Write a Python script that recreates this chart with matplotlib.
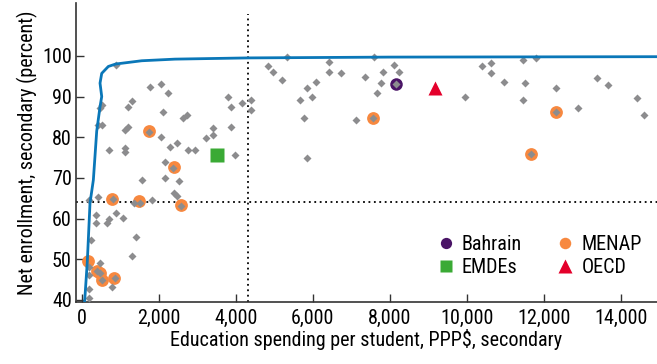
import matplotlib
matplotlib.use("Agg")
import matplotlib.pyplot as plt
import numpy as np

plt.rcParams["font.family"] = ["Roboto Condensed", "DejaVu Sans"]

# ------------------------------------------------------------
# data
# ------------------------------------------------------------
# all countries (gray diamonds): spending, enrollment
gray_x = [887, 1777, 2063, 2236, 472, 540, 1302, 1199, 2123, 420, 540, 1129, 1216,
          1752, 2063, 722, 1129, 1129, 2296, 2167, 2383, 1562, 2167, 2538, 2400,
          2470, 2584, 195, 420, 826, 1370, 1518, 1821, 368, 368, 895, 669, 722,
          1069, 247, 1414, 1302, 195, 480, 394, 480, 195, 524, 870, 784, 195, 195,
          3811, 3873, 4157, 4390, 4390, 2642, 2745, 3405, 3405, 3230, 3873, 2470,
          2755, 2945, 3983,
          4848, 4977, 5325, 5210, 5843, 6085, 5973, 5670, 5782, 5843, 6430, 6430,
          6725, 7356, 7123, 7590, 8116, 8245, 7830, 7771, 7660, 7572, 8153, 9955,
          10384, 10625, 10625, 10970, 11448, 11793, 11508, 11448, 12312, 12312,
          12890, 11655, 13368, 13669, 14421, 14595]
gray_y = [97.8, 92.4, 93.2, 90.8, 87.1, 88.0, 88.8, 87.4, 86.3, 83.0, 83.0, 81.8, 82.5,
          81.4, 80.1, 76.9, 77.3, 76.3, 77.7, 74.0, 72.4, 69.6, 70.0, 69.3, 66.2,
          65.6, 63.1, 64.6, 65.4, 64.8, 63.8, 63.9, 64.6, 60.9, 58.9, 61.3, 58.9, 59.8,
          60.1, 54.8, 55.6, 50.7, 48.2, 49.0, 47.0, 46.6, 46.2, 44.9, 45.3, 43.3, 42.6, 40.6,
          90.0, 87.5, 88.4, 89.2, 86.7, 84.7, 85.5, 82.2, 80.6, 79.8, 82.6, 78.5,
          76.9, 76.9, 75.7,
          97.4, 96.1, 99.8, 94.1, 92.1, 93.7, 90.0, 89.2, 84.7, 74.8, 98.6, 96.1,
          95.7, 94.9, 84.3, 99.8, 97.8, 96.1, 96.1, 93.3, 90.8, 84.8, 93.0, 90.0,
          97.4, 98.2, 95.7, 93.7, 99.0, 99.4, 93.3, 89.2, 92.1, 86.1,
          87.1, 75.8, 94.5, 92.9, 89.6, 85.5]

menap_x = [170, 390, 470, 520, 850, 800, 1500, 2584, 2400, 1750, 7572, 11655, 12312]
menap_y = [49.5, 47.2, 46.6, 45.0, 45.3, 64.8, 64.3, 63.3, 72.7, 81.6, 84.8, 75.8, 86.1]

bahrain_x, bahrain_y = [8153], [93.0]
emdes_x, emdes_y = [3508], [75.7]
oecd_x, oecd_y = [9163], [92.1]

# efficiency frontier
frontier_x = [80, 150, 220, 307, 394, 480, 524, 480, 524, 696, 887, 1562, 2426, 4325, 8000, 15000]
frontier_y = [39.5, 49.4, 63.8, 69.5, 81.5, 87.5, 90.0, 93.3, 95.7, 97.4, 98.0, 98.8, 99.2, 99.5, 99.7, 99.8]

avg_spending = 4325
avg_enrollment = 64.2

# ------------------------------------------------------------
# plot
# ------------------------------------------------------------
fig = plt.figure(figsize=(6.57, 3.64), dpi=100)
ax = fig.add_axes([0.1157, 0.1703, 0.8843, 0.8215])

ax.plot(menap_x, menap_y, "o", ms=9.2, color="#F7883F", mec="none", zorder=3, label="MENAP")
ax.plot(bahrain_x, bahrain_y, "o", ms=9, color="#4A1466", mec="none", zorder=3, label="Bahrain")
ax.plot(gray_x, gray_y, "D", ms=4.2, color="#8C8C8E", mec="none", zorder=4)
ax.plot(emdes_x, emdes_y, "s", ms=10, color="#3AAA35", mec="none", zorder=5, label="EMDEs")
ax.plot(oecd_x, oecd_y, "^", ms=10.5, color="#E4002B", mec="none", zorder=5, label="OECD")

ax.plot(frontier_x, frontier_y, color="#0A77B8", lw=2, zorder=6)

ax.axhline(avg_enrollment, color="black", ls=(0, (1, 2)), lw=1.3, zorder=2)
ax.plot([avg_spending, avg_spending], [39.5, 110.3], color="black", ls=(0, (1, 2)), lw=1.3, zorder=2)

ax.set_xlim(-143, 14933)
ax.set_ylim(39.5, 113)
ax.set_xticks(np.arange(0, 14001, 2000))
ax.set_xticklabels([f"{v:,}" for v in range(0, 14001, 2000)])
ax.set_yticks(np.arange(40, 101, 10))
ax.tick_params(direction="in", length=6, width=1, labelsize=14.5, color="#333333")
ax.tick_params(axis="x", pad=5)
ax.tick_params(axis="y", pad=3)

for s in ["top", "right"]:
    ax.spines[s].set_visible(False)
ax.spines["left"].set_color("#333333")
ax.spines["bottom"].set_color("#333333")
ax.spines["left"].set_linewidth(1.2)
ax.spines["bottom"].set_linewidth(1.2)

ax.set_xlabel("Education spending per student, PPP$, secondary", fontsize=14.5, labelpad=1)
ax.set_ylabel("Net enrollment, secondary (percent)", fontsize=14.5, labelpad=3)

handles, labels = ax.get_legend_handles_labels()
order = [labels.index(n) for n in ["Bahrain", "EMDEs", "MENAP", "OECD"]]
ax.legend([handles[i] for i in order], [labels[i] for i in order], ncol=2,
          loc="lower right", bbox_to_anchor=(1.005, 0.023), frameon=False, fontsize=14.5,
          handletextpad=0.2, columnspacing=1.55, labelspacing=0.2, handlelength=1.2,
          markerscale=0.9)

plt.savefig("out.png", dpi=100)
